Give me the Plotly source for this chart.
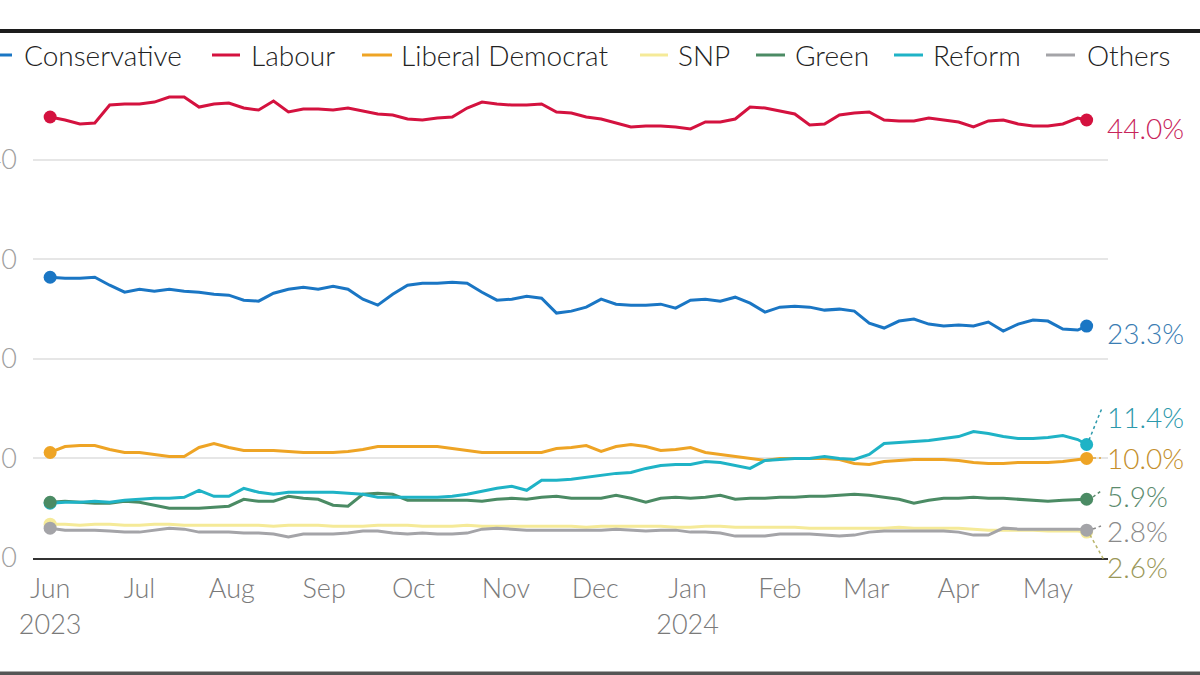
import pandas as pd
import plotly.graph_objects as go

# ---------------- data ----------------
dates = list(pd.date_range("2023-06-01", periods=70, freq="5D")) + [pd.Timestamp("2024-05-14")]

conservative = [28.2, 28.1, 28.1, 28.2, 27.4, 26.7, 27.0, 26.8, 27.0, 26.8,
                26.7, 26.5, 26.4, 25.9, 25.8, 26.6, 27.0, 27.2, 27.0, 27.3,
                27.0, 26.0, 25.4, 26.5, 27.4, 27.6, 27.6, 27.7, 27.6, 26.7,
                25.9, 26.0, 26.3, 26.1, 24.6, 24.8, 25.2, 26.0, 25.5, 25.4,
                25.4, 25.5, 25.1, 25.9, 26.0, 25.8, 26.2, 25.6, 24.7, 25.2,
                25.3, 25.2, 24.9, 25.0, 24.8, 23.6, 23.1, 23.8, 24.0, 23.5,
                23.3, 23.4, 23.3, 23.7, 22.8, 23.5, 23.9, 23.8, 23.0, 22.9, 23.3]
labour = [44.3, 44.0, 43.6, 43.7, 45.5, 45.6, 45.6, 45.8, 46.3, 46.3,
          45.3, 45.6, 45.7, 45.2, 45.0, 45.9, 44.8, 45.1, 45.1, 45.0,
          45.2, 44.9, 44.6, 44.5, 44.1, 44.0, 44.2, 44.3, 45.2, 45.8,
          45.6, 45.5, 45.5, 45.6, 44.8, 44.7, 44.3, 44.1, 43.7, 43.3,
          43.4, 43.4, 43.3, 43.1, 43.8, 43.8, 44.1, 45.3, 45.2, 44.9,
          44.6, 43.5, 43.6, 44.5, 44.7, 44.8, 44.0, 43.9, 43.9, 44.2,
          44.0, 43.8, 43.3, 43.9, 44.0, 43.6, 43.4, 43.4, 43.6, 44.2, 44.0]
lib_dem = [10.6, 11.2, 11.3, 11.3, 10.9, 10.6, 10.6, 10.4, 10.2, 10.2,
           11.1, 11.5, 11.1, 10.8, 10.8, 10.8, 10.7, 10.6, 10.6, 10.6,
           10.7, 10.9, 11.2, 11.2, 11.2, 11.2, 11.2, 11.0, 10.8, 10.6,
           10.6, 10.6, 10.6, 10.6, 11.0, 11.1, 11.3, 10.7, 11.2, 11.4,
           11.2, 10.8, 10.9, 11.1, 10.6, 10.4, 10.2, 10.0, 9.8, 10.0,
           10.0, 10.0, 10.0, 9.9, 9.5, 9.4, 9.7, 9.8, 9.9, 9.9,
           9.9, 9.8, 9.6, 9.5, 9.5, 9.6, 9.6, 9.6, 9.7, 9.9, 10.0]
snp = [3.4, 3.4, 3.3, 3.4, 3.4, 3.3, 3.3, 3.4, 3.4, 3.3,
       3.3, 3.3, 3.3, 3.3, 3.3, 3.2, 3.3, 3.3, 3.3, 3.2,
       3.2, 3.2, 3.3, 3.3, 3.3, 3.2, 3.2, 3.2, 3.3, 3.2,
       3.2, 3.2, 3.2, 3.2, 3.2, 3.2, 3.1, 3.2, 3.2, 3.2,
       3.2, 3.2, 3.1, 3.1, 3.2, 3.2, 3.1, 3.1, 3.1, 3.1,
       3.1, 3.0, 3.0, 3.0, 3.0, 3.0, 3.0, 3.1, 3.0, 3.0,
       3.0, 3.0, 2.9, 2.8, 2.8, 2.8, 2.8, 2.7, 2.7, 2.7, 2.6]
green = [5.6, 5.7, 5.6, 5.5, 5.5, 5.7, 5.6, 5.3, 5.0, 5.0,
         5.0, 5.1, 5.2, 5.9, 5.7, 5.7, 6.2, 6.0, 5.9, 5.3,
         5.2, 6.4, 6.5, 6.4, 5.8, 5.8, 5.8, 5.8, 5.8, 5.7,
         5.9, 6.0, 5.9, 6.1, 6.2, 6.0, 6.0, 6.0, 6.3, 6.0,
         5.6, 6.0, 6.1, 6.0, 6.1, 6.3, 5.9, 6.0, 6.0, 6.1,
         6.1, 6.2, 6.2, 6.3, 6.4, 6.3, 6.1, 5.9, 5.5, 5.8,
         6.0, 6.0, 6.1, 6.0, 6.0, 5.9, 5.8, 5.7, 5.8, 5.9, 5.9]
reform = [5.5, 5.6, 5.6, 5.7, 5.6, 5.8, 5.9, 6.0, 6.0, 6.1,
          6.8, 6.2, 6.2, 7.0, 6.6, 6.4, 6.6, 6.6, 6.6, 6.6,
          6.5, 6.4, 6.1, 6.1, 6.1, 6.1, 6.1, 6.2, 6.4, 6.7,
          7.0, 7.2, 6.8, 7.8, 7.8, 7.9, 8.1, 8.3, 8.5, 8.6,
          9.0, 9.3, 9.4, 9.4, 9.7, 9.6, 9.3, 9.0, 9.8, 9.9,
          10.0, 10.0, 10.2, 10.0, 9.9, 10.4, 11.5, 11.6, 11.7, 11.8,
          12.0, 12.2, 12.7, 12.5, 12.2, 12.0, 12.0, 12.1, 12.3, 11.9, 11.4]
others = [3.0, 2.8, 2.8, 2.8, 2.7, 2.6, 2.6, 2.8, 3.0, 2.9,
          2.6, 2.6, 2.6, 2.5, 2.5, 2.4, 2.1, 2.4, 2.4, 2.4,
          2.5, 2.7, 2.7, 2.5, 2.4, 2.5, 2.4, 2.4, 2.5, 2.9,
          3.0, 2.9, 2.8, 2.8, 2.8, 2.8, 2.8, 2.8, 2.9, 2.8,
          2.7, 2.8, 2.8, 2.6, 2.6, 2.5, 2.2, 2.2, 2.2, 2.4,
          2.4, 2.4, 2.3, 2.2, 2.3, 2.6, 2.7, 2.7, 2.7, 2.7,
          2.7, 2.6, 2.3, 2.3, 3.0, 2.9, 2.9, 2.9, 2.9, 2.9, 2.8]

party_names = ["Conservative", "Labour", "Liberal Democrat", "SNP", "Green", "Reform", "Others"]
month_ticks = ["2023-06-01", "2023-07-01", "2023-08-01", "2023-09-01", "2023-10-01", "2023-11-01",
               "2023-12-01", "2024-01-01", "2024-02-01", "2024-03-01", "2024-04-01", "2024-05-01"]
month_labels = ["Jun<br>2023", "Jul", "Aug", "Sep", "Oct", "Nov", "Dec", "Jan<br>2024",
                "Feb", "Mar", "Apr", "May"]
y_ticks = [0, 10, 20, 30, 40]
end_labels = ["23.3%", "44.0%", "10.0%", "2.6%", "5.9%", "11.4%", "2.8%"]

# ---------------- style ----------------
series = [conservative, labour, lib_dem, snp, green, reform, others]
colors = ["#1a76c4", "#d4123f", "#eea425", "#f5ea98", "#4b8b64", "#1fb3c6", "#a4a4a8"]
label_colors = ["#3a7db3", "#c8245a", "#c48f2c", "#9a9758", "#5b8b6d", "#2c99ab", "#8a8a8a"]
label_py = [333, 128, 458, 567, 496, 417, 531]
marker_order = [0, 1, 2, 3, 5, 4, 6]  # green marker sits above reform at the start

FONT = "Lato"
W, H = 1200, 675
PL, PR, PT, PB = 33, 1108, 85, 558  # plot area in pixels


def px2x(px):
    return (px - PL) / (PR - PL)


def py2y(py):
    return (PB - py) / (PB - PT)


fig = go.Figure()
for name, vals, col in zip(party_names, series, colors):
    fig.add_trace(go.Scatter(x=dates, y=vals, mode="lines", name=name,
                             line=dict(color=col, width=3), showlegend=False,
                             hoverinfo="skip"))
for i in marker_order:
    vals, col = series[i], colors[i]
    fig.add_trace(go.Scatter(x=[dates[0], dates[-1]], y=[vals[0], vals[-1]], mode="markers",
                             marker=dict(color=col, size=13), showlegend=False,
                             hoverinfo="skip"))

shapes = []
annotations = []

# custom legend
legend_line_px = [(-18, 12), (212, 240), (362, 392), (640, 668), (756, 785), (894, 923), (1046, 1075)]
legend_text_px = [22, 249, 399, 676, 793, 931, 1085]
LEG_Y = 55
for name, col, (a, b), tx in zip(party_names, colors, legend_line_px, legend_text_px):
    shapes.append(dict(type="line", xref="paper", yref="paper",
                       x0=px2x(a), x1=px2x(b), y0=py2y(LEG_Y), y1=py2y(LEG_Y),
                       line=dict(color=col, width=3)))
    annotations.append(dict(xref="paper", yref="paper", x=px2x(tx), y=py2y(LEG_Y),
                            xanchor="left", yanchor="middle", text=name, showarrow=False,
                            font=dict(family=FONT, size=28, color="#222222", weight=300)))

# end labels
for txt, col, py in zip(end_labels, label_colors, label_py):
    annotations.append(dict(xref="paper", yref="paper", x=px2x(1105), y=py2y(py),
                            xanchor="left", yanchor="middle", text=txt, showarrow=False,
                            font=dict(family=FONT, size=28, color=col, weight=300)))

# leader lines
leaders = [((1089, 440), (1102, 408), "#2c99ab"),
           ((1090, 535), (1104, 560), "#b8b46a"),
           ((1093, 497), (1101, 491), "#5b8b6d"),
           ((1093, 529), (1101, 526), "#8a8a8a"),
           ((1093, 458), (1101, 458), "#e0a540")]
for (x0, y0), (x1, y1), col in leaders:
    shapes.append(dict(type="line", xref="paper", yref="paper",
                       x0=px2x(x0), y0=py2y(y0), x1=px2x(x1), y1=py2y(y1),
                       line=dict(color=col, width=1.5, dash="dot")))

# frame rules top and bottom
shapes.append(dict(type="line", xref="paper", yref="paper", x0=px2x(0), x1=px2x(W),
                   y0=py2y(31), y1=py2y(31), line=dict(color="#1c1c1c", width=4)))
shapes.append(dict(type="line", xref="paper", yref="paper", x0=px2x(0), x1=px2x(W),
                   y0=py2y(673.5), y1=py2y(673.5), line=dict(color="#555555", width=4)))

fig.update_layout(
    template="none",
    width=W, height=H,
    margin=dict(l=PL, r=W - PR, t=PT, b=H - PB, autoexpand=False),
    paper_bgcolor="white", plot_bgcolor="white",
    showlegend=False,
    shapes=shapes,
    annotations=annotations,
    font=dict(family=FONT),
)

fig.update_xaxes(
    type="date",
    range=["2023-05-26 06:00", "2024-05-21 04:00"],
    tickvals=month_ticks, ticktext=month_labels,
    ticks="", showgrid=False, zeroline=False,
    showline=True, linecolor="#333333", linewidth=2,
    tickfont=dict(family=FONT, size=27, color="#7a7a7a", weight=300),
    ticklabelstandoff=6,
    automargin=False,
)
fig.update_yaxes(
    range=[0, (PB - PT) / 9.955],
    tickvals=y_ticks, ticktext=[str(v) for v in y_ticks],
    ticks="", showgrid=True, gridcolor="#e6e6e6", gridwidth=1.5,
    zeroline=False, showline=False,
    tickfont=dict(family=FONT, size=27, color="#a0a0a0", weight=300),
    ticklabelstandoff=15,
    automargin=False,
)

fig.write_html("out.html")
